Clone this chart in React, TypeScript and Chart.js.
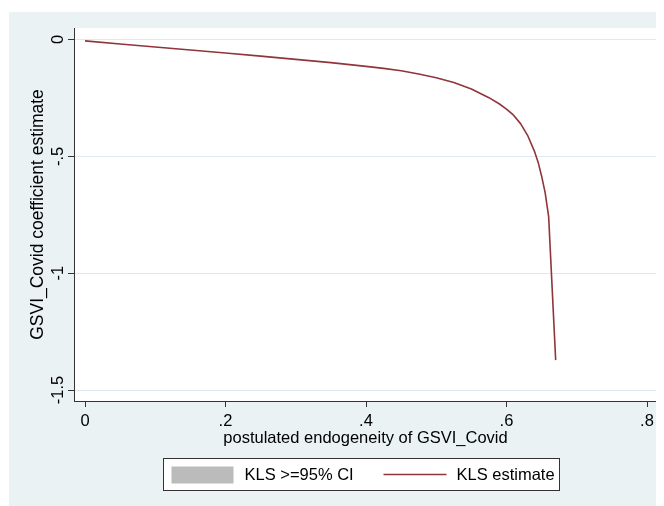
import React, { useEffect, useRef } from 'react';
import { Chart, registerables } from 'chart.js';

Chart.register(...registerables);

const xValues = [0, 0.05, 0.1, 0.15, 0.2, 0.25, 0.3, 0.35, 0.4, 0.425, 0.45, 0.475, 0.5, 0.525, 0.55, 0.575, 0.59, 0.6, 0.61, 0.62, 0.63, 0.64, 0.645, 0.65, 0.655, 0.66, 0.67];
const klsEstimate = [-0.006, -0.019, -0.032, -0.045, -0.058, -0.071, -0.085, -0.099, -0.115, -0.1235, -0.134, -0.148, -0.164, -0.184, -0.212, -0.249, -0.276, -0.298, -0.324, -0.36, -0.41, -0.48, -0.525, -0.585, -0.655, -0.758, -1.372];
const ciLabel = 'KLS >=95% CI';
const estimateLabel = 'KLS estimate';
const xTicks = [0, 0.2, 0.4, 0.6, 0.8];
const xTickLabels = ['0', '.2', '.4', '.6', '.8'];
const yTicks = [0, -0.5, -1, -1.5];
const yTickLabels = ['0', '-.5', '-1', '-1.5'];
const xTitle = 'postulated endogeneity of GSVI_Covid';
const yTitle = 'GSVI_Covid coefficient estimate';

const FONT_FAMILY = '"Liberation Sans", Arial, Helvetica, sans-serif';
const FONT_SIZE = 16.5;
const Y_TITLE_SIZE = 17.5;
const LINE_COLOR = '#90353B';
const CI_COLOR = '#BBBBBB';
const AXIS_COLOR = '#333333';
const GRID_COLOR = '#E0EAEE';
const BG_COLOR = '#EAF2F3';

const plotBgPlugin = {
  id: 'plotBg',
  beforeDraw(chart: any) {
    const { ctx, chartArea } = chart;
    ctx.save();
    ctx.fillStyle = '#FFFFFF';
    ctx.fillRect(chartArea.left, chartArea.top, chartArea.right - chartArea.left, chartArea.bottom - chartArea.top);
    ctx.restore();
  },
};

const yLabelPlugin = {
  id: 'yLabels',
  afterDraw(chart: any) {
    const { ctx } = chart;
    const scale = chart.scales.y;
    ctx.save();
    ctx.font = `${FONT_SIZE}px ${FONT_FAMILY}`;
    ctx.fillStyle = '#000000';
    ctx.textAlign = 'center';
    ctx.textBaseline = 'alphabetic';
    const baseX = scale.right - 11;
    yTicks.forEach((v, i) => {
      const py = scale.getPixelForValue(v);
      ctx.save();
      ctx.translate(baseX, py);
      ctx.rotate(-Math.PI / 2);
      ctx.fillText(yTickLabels[i], 0, 0);
      ctx.restore();
    });
    ctx.restore();
  },
};

const legendPlugin = {
  id: 'boxLegend',
  afterDraw(chart: any) {
    const { ctx, chartArea } = chart;
    const ds = chart.data.datasets;
    const w = 396;
    const h = 32;
    const cx = (chartArea.left + chartArea.right) / 2 - 4.5;
    const left = Math.round(cx - w / 2) + 0.5;
    const top = chartArea.bottom + 57 + 0.5;
    ctx.save();
    ctx.fillStyle = '#FFFFFF';
    ctx.fillRect(left, top, w, h);
    ctx.strokeStyle = AXIS_COLOR;
    ctx.lineWidth = 1;
    ctx.strokeRect(left, top, w, h);
    const midY = top + h / 2;
    ctx.fillStyle = ds[0].backgroundColor;
    ctx.fillRect(left + 8, top + 8, 62, 17);
    ctx.font = `${FONT_SIZE}px ${FONT_FAMILY}`;
    ctx.fillStyle = '#000000';
    ctx.textAlign = 'left';
    ctx.textBaseline = 'middle';
    ctx.fillText(ds[0].label, left + 81, midY + 1);
    ctx.strokeStyle = ds[1].borderColor;
    ctx.lineWidth = 1.6;
    ctx.beginPath();
    ctx.moveTo(left + 220, midY);
    ctx.lineTo(left + 283, midY);
    ctx.stroke();
    ctx.fillText(ds[1].label, left + 293, midY + 1);
    ctx.restore();
  },
};

export default function App() {
  const canvasRef = useRef<HTMLCanvasElement | null>(null);

  useEffect(() => {
    if (!canvasRef.current) return;
    const font = { family: FONT_FAMILY, size: FONT_SIZE, lineHeight: 1.2 };
    const chart = new Chart(canvasRef.current, {
      type: 'scatter',
      data: {
        datasets: [
          {
            label: ciLabel,
            data: [],
            backgroundColor: CI_COLOR,
            borderColor: CI_COLOR,
            showLine: false,
            pointRadius: 0,
          },
          {
            label: estimateLabel,
            data: xValues.map((x, i) => ({ x, y: klsEstimate[i] })),
            borderColor: LINE_COLOR,
            backgroundColor: LINE_COLOR,
            borderWidth: 1.6,
            showLine: true,
            pointRadius: 0,
            tension: 0,
            borderJoinStyle: 'round',
            fill: false,
          },
        ],
      },
      options: {
        animation: false,
        responsive: false,
        events: [],
        layout: { padding: { left: 0, top: 16, right: 7, bottom: 0 } },
        plugins: {
          legend: { display: false },
          tooltip: { enabled: false },
        },
        scales: {
          x: {
            type: 'linear',
            min: -0.01566,
            max: 0.81423,
            afterBuildTicks: (s: any) => {
              s.ticks = xTicks.map((v) => ({ value: v }));
            },
            afterFit: (s: any) => {
              s.height = 105;
            },
            ticks: {
              callback: (v: any) => {
                const i = xTicks.indexOf(Number(v));
                return i >= 0 ? xTickLabels[i] : '';
              },
              font,
              color: '#000000',
              padding: 5,
              maxRotation: 0,
              autoSkip: false,
            },
            grid: {
              drawOnChartArea: false,
              drawTicks: true,
              tickLength: 6,
              color: AXIS_COLOR,
              tickColor: AXIS_COLOR,
            },
            border: { display: true, color: AXIS_COLOR, width: 1 },
            title: {
              display: true,
              text: xTitle,
              font,
              color: '#000000',
              padding: { top: 0, bottom: 58 },
            },
          },
          y: {
            type: 'linear',
            min: -1.547,
            max: 0.0492,
            afterBuildTicks: (s: any) => {
              s.ticks = yTicks.map((v) => ({ value: v }));
            },
            afterFit: (s: any) => {
              s.width = 65;
            },
            ticks: { display: false },
            grid: {
              color: GRID_COLOR,
              tickColor: AXIS_COLOR,
              tickLength: 6,
              drawTicks: true,
            },
            border: { display: true, color: AXIS_COLOR, width: 1 },
            title: {
              display: true,
              text: yTitle,
              font: { family: FONT_FAMILY, size: Y_TITLE_SIZE, lineHeight: 1.2 },
              color: '#000000',
              padding: { top: 19, bottom: 0 },
            },
          },
        },
      } as any,
      plugins: [plotBgPlugin, yLabelPlugin, legendPlugin],
    });
    return () => chart.destroy();
  }, []);

  return (
    <div style={{ marginTop: 4, marginLeft: 1, width: 655, height: 494, background: BG_COLOR }}>
      <canvas ref={canvasRef} width={655} height={494} style={{ display: 'block' }} />
    </div>
  );
}
